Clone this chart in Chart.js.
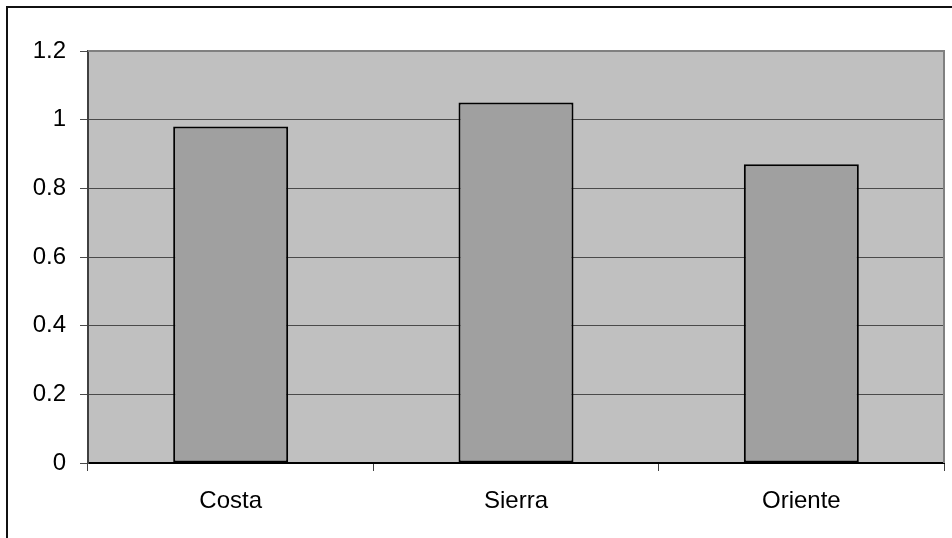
<!DOCTYPE html>
<html>
<head>
<meta charset="utf-8">
<script src="https://cdn.jsdelivr.net/npm/chart.js@4/dist/chart.umd.min.js"></script>
<style>
  html, body { margin: 0; padding: 0; background: #fff; }
  #wrap { position: relative; width: 952px; height: 538px; overflow: hidden; }
  #frame { position: absolute; left: 6px; top: 6px; width: 960px; height: 560px;
           border-left: 2px solid #111; border-top: 2px solid #111; }
  canvas { position: absolute; left: 0; top: 0; }
</style>
</head>
<body>
<div id="wrap">
  <div id="frame"></div>
  <canvas id="c" width="952" height="538"></canvas>
</div>
<script>
// Regions and their values
const categories = ['Costa', 'Sierra', 'Oriente'];
const values = [0.98, 1.05, 0.87];
const yMin = 0, yMax = 1.2, yStep = 0.2;

// Grey plot background with a grey frame on top and right
const plotBackground = {
  id: 'plotBackground',
  beforeDraw(chart) {
    const { ctx, chartArea: a } = chart;
    ctx.save();
    ctx.fillStyle = '#c0c0c0';
    ctx.fillRect(a.left, a.top, a.right - a.left, a.bottom - a.top);
    ctx.restore();
  },
  beforeDatasetsDraw(chart) {
    const { ctx, chartArea: a } = chart;
    ctx.save();
    ctx.strokeStyle = '#808080';
    ctx.lineWidth = 2;
    ctx.beginPath();
    ctx.moveTo(a.left, a.top);
    ctx.lineTo(a.right, a.top);
    ctx.lineTo(a.right, a.bottom);
    ctx.stroke();
    ctx.restore();
  }
};

Chart.defaults.font.family = '"Liberation Sans", Arial, sans-serif';
Chart.defaults.font.size = 24;
Chart.defaults.color = '#000';

new Chart(document.getElementById('c'), {
  type: 'bar',
  data: {
    labels: categories,
    datasets: [{
      data: values,
      backgroundColor: '#a0a0a0',
      borderColor: '#000',
      borderWidth: 2,
      borderSkipped: false,
      categoryPercentage: 1,
      barPercentage: 0.403
    }]
  },
  options: {
    responsive: false,
    animation: false,
    layout: { padding: { left: 0, top: 51, right: 8, bottom: 0 } },
    plugins: { legend: { display: false }, tooltip: { enabled: false } },
    scales: {
      x: {
        grid: { display: true, drawOnChartArea: false, drawTicks: true, tickLength: 8, color: '#404040', offset: true },
        border: { display: true, color: '#000', width: 2 },
        ticks: { padding: 16, font: { size: 24, lineHeight: 1.2 } },
        afterFit(scale) { scale.height = 75; }
      },
      y: {
        min: yMin,
        max: yMax,
        grid: { color: '#4a4a4a', lineWidth: 1, tickLength: 8, drawTicks: true },
        border: { display: true, color: '#404040', width: 2 },
        ticks: {
          stepSize: yStep,
          padding: 14,
          callback: v => String(Number(v.toFixed(1)))
        },
        afterFit(scale) { scale.width = 88; }
      }
    }
  },
  plugins: [plotBackground]
});
</script>
</body>
</html>
